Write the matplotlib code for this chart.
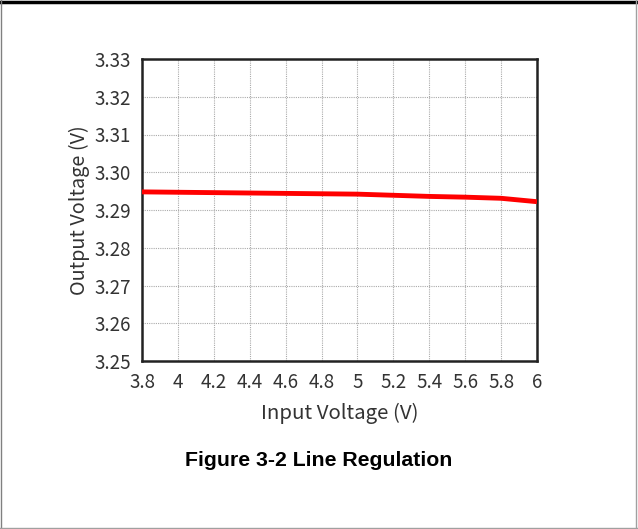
import matplotlib
matplotlib.use("Agg")
import matplotlib.pyplot as plt
from matplotlib.lines import Line2D

# data
vin = [3.8, 4.0, 4.2, 4.4, 4.6, 4.8, 5.0, 5.2, 5.4, 5.6, 5.8, 6.0]
vout = [3.2948, 3.2947, 3.2946, 3.2945, 3.2944, 3.2943, 3.2942, 3.2939,
        3.2936, 3.2934, 3.2931, 3.2922]
x_ticks = [3.8, 4.0, 4.2, 4.4, 4.6, 4.8, 5.0, 5.2, 5.4, 5.6, 5.8, 6.0]
x_labels = ["3.8", "4", "4.2", "4.4", "4.6", "4.8", "5", "5.2", "5.4", "5.6", "5.8", "6"]
y_ticks = [3.25, 3.26, 3.27, 3.28, 3.29, 3.30, 3.31, 3.32, 3.33]

W, H = 638, 529
fig = plt.figure(figsize=(W / 100, H / 100), dpi=100)
fig.patch.set_facecolor("white")

# page frame
fig.add_artist(Line2D([0, 1], [1 - 1.5 / H, 1 - 1.5 / H], color="black", lw=2.5))
fig.add_artist(Line2D([0.5 / W, 0.5 / W], [0, 1], color="#808080", lw=1))
fig.add_artist(Line2D([1 - 2.5 / W, 1 - 2.5 / W], [0, 1], color="#a0a0a0", lw=1))
fig.add_artist(Line2D([0, 1], [1.5 / H, 1.5 / H], color="#a0a0a0", lw=1))

tick_font = "Noto Sans CJK SC"
ax = fig.add_axes([142 / W, 1 - 361 / H, (537 - 142) / W, (361 - 59) / H])
ax.plot(vin, vout, color="#ff0000", lw=3.5, solid_capstyle="butt", zorder=3)

ax.set_xlim(3.8, 6.0)
ax.set_ylim(3.25, 3.33)
ax.set_xticks(x_ticks)
ax.set_xticklabels(x_labels)
ax.set_yticks(y_ticks)
ax.set_yticklabels([f"{v:.2f}" for v in y_ticks])
ax.tick_params(length=0, labelsize=13.5, colors="#333333")
ax.tick_params(axis="x", pad=8)
ax.tick_params(axis="y", pad=8)
for lab in ax.get_xticklabels() + ax.get_yticklabels():
    lab.set_fontfamily(tick_font)
ax.grid(True, color="#aaaaaa", ls=(0, (1, 1)), lw=0.8)
for s in ax.spines.values():
    s.set_linewidth(1.8)
    s.set_color("#222222")

ax.set_xlabel("Input Voltage (V)", fontsize=14.7, family=tick_font, color="#333333", labelpad=7)
ax.set_ylabel("Output Voltage (V)", fontsize=14.3, family=tick_font, color="#333333", labelpad=3)

fig.text(319 / W, 1 - 460 / H, "Figure 3-2 Line Regulation", ha="center", va="center",
         fontsize=15.3, fontweight="bold", family="Liberation Sans")

fig.savefig("out.png", dpi=100)
